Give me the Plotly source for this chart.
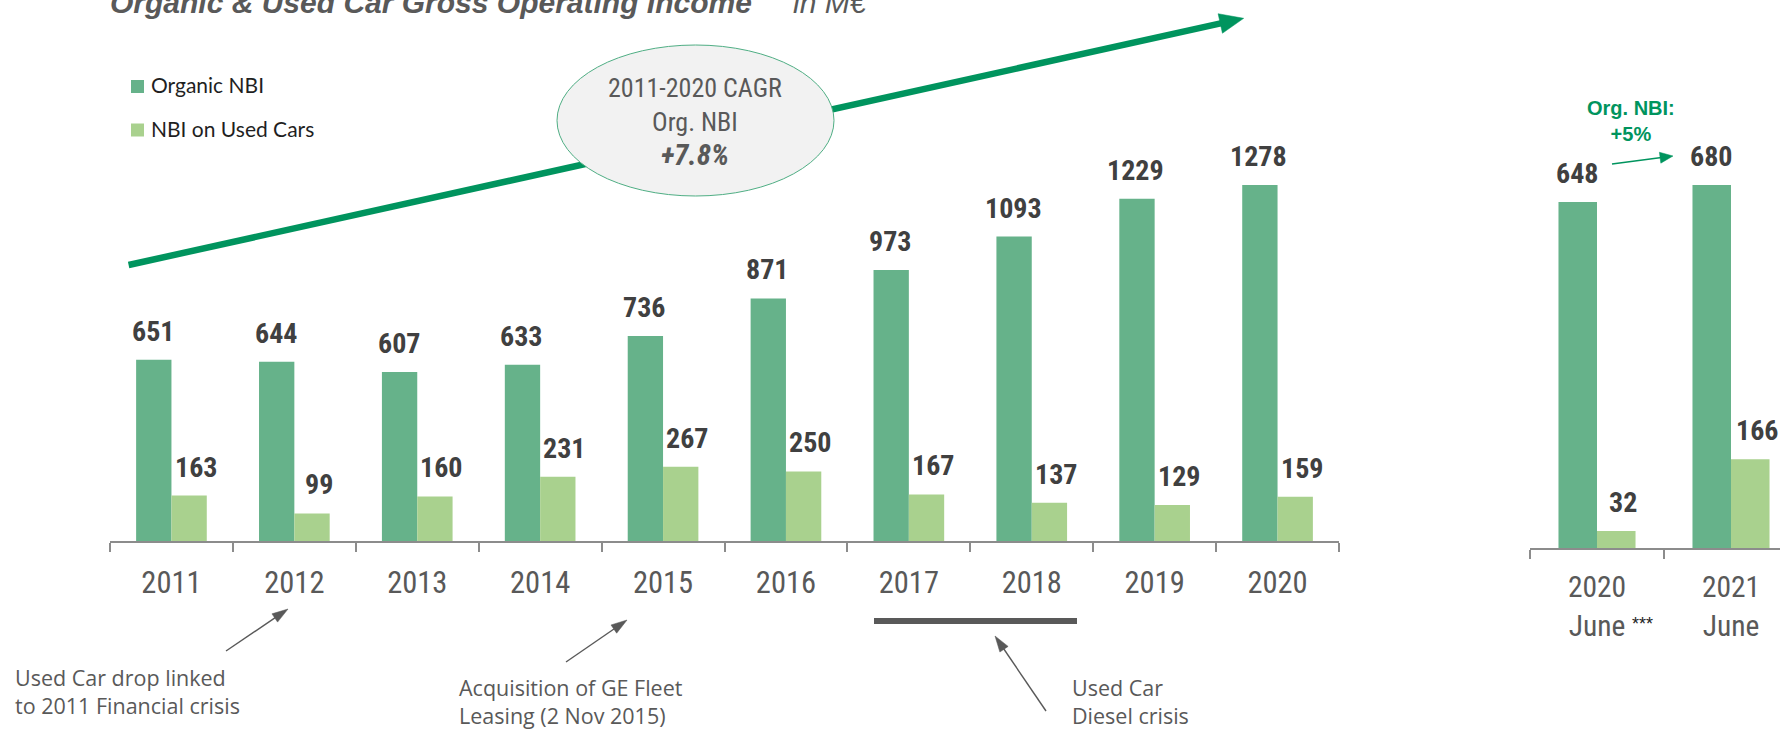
import math
import plotly.graph_objects as go

# ---------------- data ----------------
years = ["2011", "2012", "2013", "2014", "2015", "2016", "2017", "2018", "2019", "2020"]
organic_nbi = [651, 644, 607, 633, 736, 871, 973, 1093, 1229, 1278]
used_car_nbi = [163, 99, 160, 231, 267, 250, 167, 137, 129, 159]

half_periods = ["2020<br>June", "2021<br>June"]
half_organic_nbi = [648, 680]
half_used_car_nbi = [32, 166]

series_names = ["Organic NBI", "NBI on Used Cars"]
title_text = "Organic &amp; Used Car Gross Operating Income"
unit_text = "in M€"
cagr_text = ["2011-2020 CAGR", "Org. NBI", "+7.8%"]
half_growth_text = ["Org. NBI:", "+5%"]
notes = [
    ["Used Car drop linked", "to 2011 Financial crisis"],
    ["Acquisition of GE Fleet", "Leasing (2 Nov 2015)"],
    ["Used Car", "Diesel crisis"],
]

# ---------------- style ----------------
W, H = 1780, 731
C_ORG = "#66B28A"
C_USED = "#A9D18E"
GREEN = "#00945E"
GRAY = "#595959"
LABEL = "#404040"
AXIS = "#8C8C8C"
NARROW = "Roboto Condensed, Noto Sans Condensed, Liberation Sans Narrow, DejaVu Sans Condensed, sans-serif"
ARIAL = "Liberation Sans, Arial, sans-serif"
NOTE_FONT = "Open Sans, Noto Sans, sans-serif"
LEG_FONT = "Lato, Calibri, sans-serif"
BARGAP = 0.425


def px(x):
    return x / W


def py(y):
    return 1 - y / H


def text_center(b1, n, size, k=0.35):
    """vertical pixel centre of an n-line text block whose first baseline is b1"""
    return b1 + (n - 1) * 1.3 * size / 2 - k * size


def nfont(size, color):
    return dict(family=NARROW, size=size, color=color)


fig = go.Figure()

# ---------------- bars ----------------
fig.add_bar(x=years, y=organic_nbi, name=series_names[0], marker=dict(color=C_ORG, line=dict(width=0)),
            xaxis="x", yaxis="y", showlegend=False, hoverinfo="x+y+name")
fig.add_bar(x=years, y=used_car_nbi, name=series_names[1], marker=dict(color=C_USED, line=dict(width=0)),
            xaxis="x", yaxis="y", showlegend=False, hoverinfo="x+y+name")
fig.add_bar(x=half_periods, y=half_organic_nbi, name=series_names[0], marker=dict(color=C_ORG, line=dict(width=0)),
            xaxis="x2", yaxis="y2", showlegend=False, hoverinfo="y+name")
fig.add_bar(x=half_periods, y=half_used_car_nbi, name=series_names[1], marker=dict(color=C_USED, line=dict(width=0)),
            xaxis="x2", yaxis="y2", showlegend=False, hoverinfo="y+name")

annotations = []
shapes = []

# ---------------- value labels ----------------
half_w = (1 - BARGAP) / 4.0  # offset of each grouped bar centre from category centre


def add_value_labels(values, xref, yref, sign, xshift):
    for i, v in enumerate(values):
        annotations.append(dict(
            x=i + sign * half_w, y=v, xref=xref, yref=yref, text=f"<b>{v}</b>",
            showarrow=False, xanchor="center", yanchor="bottom", yshift=10, xshift=xshift,
            font=nfont(28, LABEL)))


add_value_labels(organic_nbi, "x", "y", -1, -1)
add_value_labels(used_car_nbi, "x", "y", 1, 6.5)
add_value_labels(half_organic_nbi, "x2", "y2", -1, -1)
add_value_labels(half_used_car_nbi, "x2", "y2", 1, 6.5)


# ---------------- arrows (pixel geometry -> paper shapes) ----------------
def arrow(x0, y0, x1, y1, lw, hl, hw, color):
    dx, dy = x1 - x0, y1 - y0
    L = math.hypot(dx, dy)
    ux, uy = dx / L, dy / L
    bx, by = x1 - ux * hl, y1 - uy * hl
    shapes.append(dict(type="line", xref="paper", yref="paper",
                       x0=px(x0), y0=py(y0), x1=px(bx + ux * 1.5), y1=py(by + uy * 1.5),
                       line=dict(color=color, width=lw), layer="above"))
    lx, ly = bx - uy * hw / 2, by + ux * hw / 2
    rx, ry = bx + uy * hw / 2, by - ux * hw / 2
    path = f"M{px(x1)},{py(y1)} L{px(lx)},{py(ly)} L{px(rx)},{py(ry)} Z"
    shapes.append(dict(type="path", xref="paper", yref="paper", path=path,
                       fillcolor=color, line=dict(color=color, width=0.5), layer="above"))


# big CAGR arrow, then the ellipse on top of it
arrow(128.6, 265, 1243.7, 18.3, 6.5, 24, 20, GREEN)
shapes.append(dict(type="circle", xref="paper", yref="paper",
                   x0=px(557), x1=px(834), y0=py(196), y1=py(45),
                   fillcolor="#F2F2F2", line=dict(color="#4FAE84", width=1), layer="above"))

# small green arrow on the half-year chart
arrow(1612, 164, 1673, 156, 1.6, 13, 11, GREEN)

# gray note arrows
arrow(226, 651, 288, 609, 1.4, 16, 10, GRAY)
arrow(566, 662, 627, 620, 1.4, 16, 10, GRAY)
arrow(1046, 711, 995, 636, 1.4, 16, 10, GRAY)

# diesel crisis bar under 2017-2018
shapes.append(dict(type="rect", xref="paper", yref="paper",
                   x0=px(874), x1=px(1077), y0=py(624), y1=py(618),
                   fillcolor=GRAY, line=dict(width=0), layer="above"))

# ---------------- legend (manual) ----------------
for (top, col, name) in [(80, C_ORG, series_names[0]), (123.5, C_USED, series_names[1])]:
    shapes.append(dict(type="rect", xref="paper", yref="paper",
                       x0=px(131), x1=px(144), y0=py(top + 13), y1=py(top),
                       fillcolor=col, line=dict(width=0), layer="above"))
    annotations.append(dict(x=px(148.5), y=py(text_center(top + 13, 1, 21, 0.387)), xref="paper", yref="paper",
                            text=name, showarrow=False, xanchor="left", yanchor="middle",
                            font=dict(family=LEG_FONT, size=21, color="#1F1F1F")))

# ---------------- text blocks ----------------
# title (cut at the top like the source)
annotations.append(dict(
    x=px(108), y=py(text_center(10, 1, 30)), xref="paper", yref="paper", showarrow=False,
    xanchor="left", yanchor="middle",
    text=f"<b><i>{title_text}</i></b><sup>***</sup>  <i>{unit_text}</i>",
    font=dict(family=ARIAL, size=30, color=GRAY)))

# CAGR bubble text
annotations.append(dict(
    x=px(695), y=py(text_center(98, 3, 26)), xref="paper", yref="paper", showarrow=False,
    xanchor="center", yanchor="middle", align="center",
    text=(f"{cagr_text[0]}<br>{cagr_text[1]}<br>"
          f"<span style='font-size:29px'><b><i>{cagr_text[2]}</i></b></span>"),
    font=nfont(26, GRAY)))

# half-year growth text
annotations.append(dict(
    x=px(1631), y=py(text_center(115, 2, 20)), xref="paper", yref="paper", showarrow=False,
    xanchor="center", yanchor="middle", align="center",
    text=f"<b>{half_growth_text[0]}<br>{half_growth_text[1]}</b>",
    font=dict(family=ARIAL, size=20, color=GREEN)))

# footnote stars after "June"
annotations.append(dict(
    x=px(1642.5), y=py(623.5), xref="paper", yref="paper", showarrow=False,
    xanchor="center", yanchor="middle", text="***",
    font=dict(family=ARIAL, size=18, color="#222222")))

# notes at the bottom
for (xl, b1), lines in zip([(13, 686), (457, 696), (1070, 696)], notes):
    annotations.append(dict(
        x=px(xl), y=py(text_center(b1, 2, 21.5, 0.388)), xref="paper", yref="paper", showarrow=False,
        xanchor="left", yanchor="middle", align="left",
        text="<br>".join(lines),
        font=dict(family=NOTE_FONT, size=21.5, color=GRAY)))

# ---------------- axes ----------------
MAIN_AXIS_Y = 541
HALF_AXIS_Y = 548
axis_common = dict(type="category", showline=True, linecolor=AXIS, linewidth=2,
                   ticks="outside", tickson="boundaries", ticklen=9, tickwidth=1.5, tickcolor=AXIS,
                   showgrid=False, zeroline=False, fixedrange=True)

fig.update_layout(
    width=W, height=H,
    margin=dict(l=0, r=0, t=0, b=0, pad=0),
    paper_bgcolor="white", plot_bgcolor="white",
    barmode="group", bargap=BARGAP, bargroupgap=0,
    showlegend=False,
    xaxis=dict(domain=[px(110), px(1339)], range=[-0.5, 9.5], anchor="y",
               ticklabelstandoff=13, tickfont=nfont(30.5, GRAY), **axis_common),
    yaxis=dict(domain=[py(MAIN_AXIS_Y), 1], range=[0, MAIN_AXIS_Y / 0.2785], visible=False,
               anchor="x", fixedrange=True),
    xaxis2=dict(domain=[px(1530), 1], range=[-0.5, -0.5 + 250 / 134], anchor="y2",
                ticklabelstandoff=12, tickfont=nfont(29.5, GRAY), **axis_common),
    yaxis2=dict(domain=[py(HALF_AXIS_Y), 1], range=[0, HALF_AXIS_Y / 0.534], visible=False,
                anchor="x2", fixedrange=True),
    shapes=shapes,
    annotations=annotations,
)

fig.write_html("out.html", config={"displayModeBar": False},
               post_script="document.body.style.margin='0';document.body.style.overflow='hidden';")
